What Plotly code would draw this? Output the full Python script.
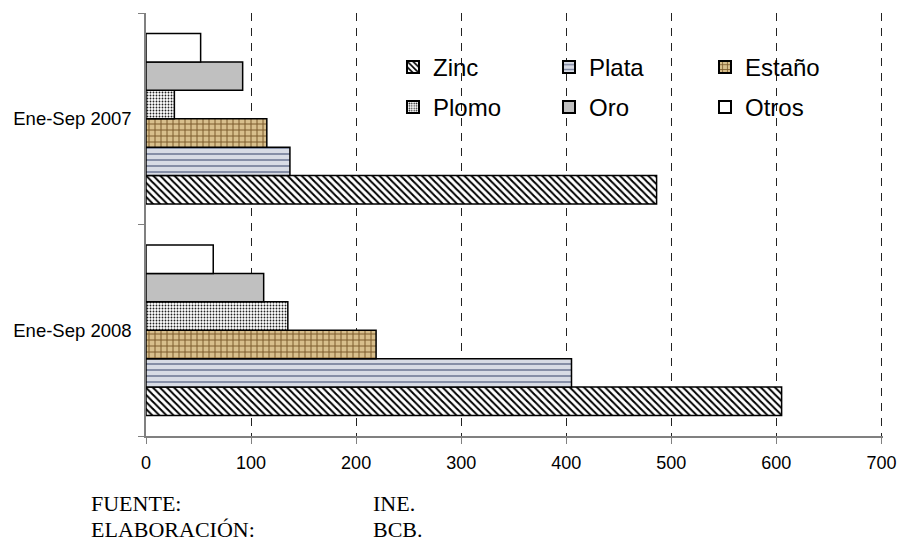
import plotly.graph_objects as go

categories = ["Ene-Sep 2008", "Ene-Sep 2007"]
series_names = ["Zinc", "Plata", "Estaño", "Plomo", "Oro", "Otros"]
zinc = [605, 486]
plata = [405, 137]
estano = [219, 115]
plomo = [135, 27]
oro = [112, 92]
otros = [64, 52]
x_ticks = [0, 100, 200, 300, 400, 500, 600, 700]

values = [zinc, plata, estano, plomo, oro, otros]

markers = [
    dict(color="white", pattern=dict(shape="\\", fgcolor="black", bgcolor="white", size=5, solidity=0.4, fillmode="replace")),
    dict(color="#c8cdd9", pattern=dict(shape="-", fgcolor="#7d86a0", bgcolor="#d8dce5", size=6, solidity=0.3, fillmode="replace")),
    dict(color="#cfb27a", pattern=dict(shape="+", fgcolor="#7a5a2a", bgcolor="#d8bf8c", size=6, solidity=0.3, fillmode="replace")),
    dict(color="white", pattern=dict(shape=".", fgcolor="#222", bgcolor="white", size=3, solidity=0.3, fillmode="replace")),
    dict(color="#c0c0c0"),
    dict(color="white"),
]
legend_ids = ["legend", "legend", "legend", "legend2", "legend2", "legend2"]

fig = go.Figure()
for name, vals, mk, lg in zip(series_names, values, markers, legend_ids):
    mk = dict(mk)
    mk["line"] = dict(color="black", width=1.5)
    fig.add_trace(go.Bar(y=categories, x=vals, name=name, orientation="h",
                         marker=mk, legend=lg))

plot_left, plot_right, plot_top, plot_bottom = 146, 883, 13, 436
W, H = 901, 542
pw = plot_right - plot_left
ph = plot_bottom - plot_top

def px_x(p):
    return (p - plot_left) / pw

def px_y(p):
    return (plot_bottom - p) / ph

legend_common = dict(orientation="h", xanchor="left", yanchor="middle",
                     font=dict(family="Liberation Sans, Arial", size=24, color="black"),
                     bgcolor="rgba(0,0,0,0)", entrywidth=111, entrywidthmode="pixels",
                     traceorder="normal", itemsizing="constant")

fig.update_layout(
    width=W, height=H,
    margin=dict(l=plot_left, r=W - plot_right, t=plot_top, b=H - plot_bottom, pad=0, autoexpand=False),
    paper_bgcolor="white", plot_bgcolor="white",
    barmode="group", bargap=0.195, bargroupgap=0,
    font=dict(family="Liberation Sans, Arial", size=18, color="black"),
    showlegend=True,
    legend=dict(x=px_x(393), y=px_y(67.5), **legend_common),
    legend2=dict(x=px_x(393), y=px_y(107.5), **legend_common),
    xaxis=dict(range=[0, 701.5], tickvals=x_ticks, ticktext=[str(v) for v in x_ticks],
               showgrid=True, gridcolor="#222", griddash="8px,7px", gridwidth=1,
               zeroline=False, showline=True, linecolor="#808080", linewidth=1.5,
               ticks="outside", ticklen=6, tickcolor="#808080", ticklabelstandoff=4,
               automargin=False,
               tickfont=dict(size=18, family="Liberation Sans, Arial"), fixedrange=True),
    yaxis=dict(showgrid=False, zeroline=False, showline=True, linecolor="#808080", linewidth=1.5,
               ticks="outside", ticklen=6, tickcolor="#808080", tickson="boundaries",
               ticklabelstandoff=9, automargin=False,
               tickfont=dict(size=18.5, family="Liberation Sans, Arial"), fixedrange=True),
)

foot_font = dict(family="Liberation Serif, Times New Roman", size=22, color="black")
footer = [("FUENTE:", "INE.", 503), ("ELABORACIÓN:", "BCB.", 529)]
for lab, val, ypx in footer:
    fig.add_annotation(text=lab, xref="paper", yref="paper", x=px_x(89), y=px_y(ypx),
                       xanchor="left", yanchor="middle", showarrow=False, font=foot_font)
    fig.add_annotation(text=val, xref="paper", yref="paper", x=px_x(371), y=px_y(ypx),
                       xanchor="left", yanchor="middle", showarrow=False, font=foot_font)

fig.write_html("out.html")
